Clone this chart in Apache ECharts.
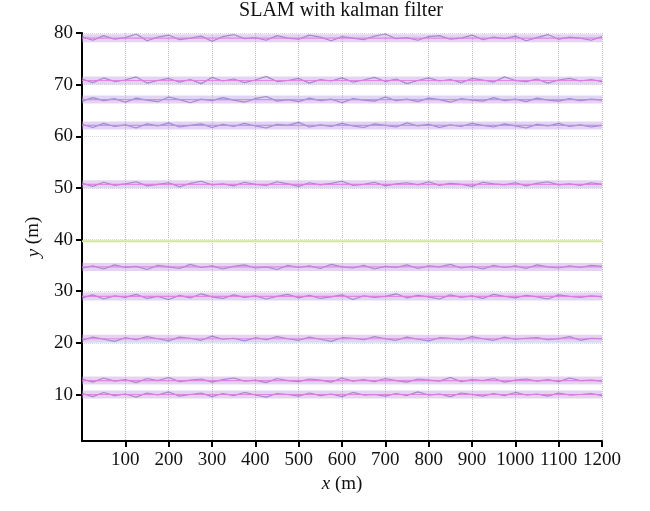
<!DOCTYPE html>
<html>
<head>
<meta charset="utf-8">
<script src="https://cdn.jsdelivr.net/npm/echarts@6/dist/echarts.min.js"></script>
<style>
  html, body { margin: 0; padding: 0; background: #fff; }
  #chart { width: 650px; height: 511px; }
</style>
</head>
<body>
<div id="chart"></div>
<script>
// x positions of the sampled track points (m)
const xs = [0, 25, 50, 75, 100, 125, 150, 175, 200, 225, 250, 275, 300, 325, 350, 375, 400,
  425, 450, 475, 500, 525, 550, 575, 600, 625, 650, 675, 700, 725, 750, 775, 800, 825, 850,
  875, 900, 925, 950, 975, 1000, 1025, 1050, 1075, 1100, 1125, 1150, 1175, 1200];

const xTicks = [100, 200, 300, 400, 500, 600, 700, 800, 900, 1000, 1100, 1200];
const yTicks = [10, 20, 30, 40, 50, 60, 70, 80];

// straight reference lines (pink) for each landmark row
const trackMeans = [79.0, 70.8, 67.1, 62.1, 50.7, 34.7, 29.0, 20.8, 12.7, 10.0];
// the green straight line
const greenLine = 39.7;

// estimated (noisy) tracks, one per row
const t79 = [79.3, 78.6, 79.5, 78.8, 79.1, 79.8, 78.5, 79.2, 79.6, 78.7, 79.0, 79.4, 78.4, 79.3,
  79.7, 78.9, 79.1, 78.6, 79.5, 79.0, 78.8, 79.6, 79.2, 78.5, 79.3, 79.0, 78.7, 79.4,
  79.8, 78.9, 79.1, 78.6, 79.3, 79.5, 78.8, 79.0, 79.6, 78.7, 79.2, 78.9, 79.4, 78.5,
  79.1, 79.7, 78.8, 79.2, 79.0, 78.6, 79.3];
const t71 = [71.1, 70.4, 71.3, 70.6, 70.9, 71.5, 70.3, 70.8, 71.2, 70.5, 71.0, 70.2, 71.4, 70.7,
  71.1, 70.4, 70.9, 71.6, 70.6, 70.8, 71.2, 70.3, 71.0, 70.7, 71.3, 70.5, 70.9, 71.4,
  70.6, 71.1, 70.2, 70.8, 71.3, 70.7, 71.0, 70.4, 71.2, 70.9, 70.5, 71.5, 70.8, 70.6,
  71.1, 70.3, 70.9, 71.2, 70.7, 71.0, 70.6];
const t67 = [66.8, 67.5, 66.9, 67.3, 66.6, 67.4, 67.0, 66.7, 67.6, 67.1, 66.5, 67.2, 66.9, 67.5,
  67.0, 66.6, 67.3, 67.7, 66.8, 67.1, 66.7, 67.4, 66.9, 67.2, 66.5, 67.3, 67.0, 66.8,
  67.6, 66.9, 67.2, 66.7, 67.4, 67.1, 66.6, 67.3, 67.0, 66.8, 67.5, 66.9, 67.2, 66.7,
  67.4, 67.0, 66.8, 67.3, 66.9, 67.2, 67.0];
const t62 = [62.3, 61.7, 62.5, 61.9, 62.2, 61.6, 62.4, 62.0, 62.6, 61.8, 62.1, 62.4, 61.7, 62.3,
  61.9, 62.5, 62.0, 61.6, 62.3, 62.1, 62.7, 61.8, 62.2, 61.9, 62.5, 62.0, 61.7, 62.4,
  62.1, 61.8, 62.6, 62.0, 62.3, 61.7, 62.2, 61.9, 62.5, 62.1, 61.8, 62.4, 62.0, 61.6,
  62.3, 62.0, 62.5, 61.9, 62.2, 61.8, 62.1];
const t51 = [50.9, 50.3, 51.1, 50.5, 50.8, 51.2, 50.4, 50.7, 51.0, 50.2, 50.9, 51.3, 50.6, 50.8,
  50.4, 51.1, 50.7, 50.5, 51.2, 50.8, 50.3, 51.0, 50.6, 50.9, 51.3, 50.5, 50.7, 51.1,
  50.4, 50.8, 51.0, 50.6, 51.2, 50.5, 50.9, 50.7, 50.3, 51.1, 50.8, 50.6, 51.0, 50.4,
  50.9, 51.2, 50.6, 50.8, 50.5, 51.0, 50.7];
const t35 = [34.5, 34.9, 34.3, 35.1, 34.6, 34.8, 34.2, 35.0, 34.7, 34.4, 35.2, 34.6, 34.9, 34.3,
  34.8, 35.1, 34.5, 34.7, 34.2, 35.0, 34.6, 34.9, 34.4, 35.2, 34.7, 34.5, 35.0, 34.3,
  34.8, 34.6, 35.1, 34.4, 34.9, 34.7, 35.2, 34.5, 34.8, 34.3, 35.0, 34.6, 34.9, 34.4,
  35.1, 34.7, 34.5, 34.9, 34.6, 35.0, 34.8];
const t29 = [28.7, 29.3, 28.5, 29.1, 28.8, 29.4, 28.6, 29.0, 28.4, 29.2, 28.7, 29.5, 28.9, 28.6,
  29.3, 28.8, 29.1, 28.5, 29.0, 29.4, 28.7, 29.2, 28.6, 28.9, 29.3, 28.4, 29.1, 28.8,
  29.0, 29.5, 28.7, 29.2, 28.9, 28.5, 29.3, 28.8, 29.1, 28.6, 29.4, 29.0, 28.7, 29.2,
  28.9, 28.5, 29.3, 29.0, 28.8, 29.1, 28.9];
const t21 = [20.5, 21.1, 20.7, 20.3, 21.0, 20.6, 21.2, 20.8, 20.4, 21.1, 20.9, 20.5, 21.3, 20.7,
  20.9, 20.4, 21.0, 20.6, 21.2, 20.8, 20.5, 21.1, 20.7, 20.3, 21.0, 20.9, 20.6, 21.2,
  20.8, 20.5, 21.1, 20.7, 20.4, 21.0, 20.9, 20.6, 21.2, 20.8, 20.5, 21.1, 20.7, 20.9,
  21.0, 20.6, 20.8, 21.2, 20.5, 20.9, 20.8];
const t13 = [13.0, 12.4, 13.2, 12.6, 12.9, 12.3, 13.1, 12.7, 13.3, 12.5, 12.8, 13.0, 12.4, 12.9,
  13.2, 12.6, 12.8, 12.3, 13.1, 12.7, 12.5, 13.0, 12.8, 12.4, 13.2, 12.6, 12.9, 12.5,
  13.1, 12.7, 12.4, 13.0, 12.8, 12.6, 13.3, 12.5, 12.9, 12.7, 13.1, 12.4, 12.8, 13.0,
  12.6, 12.9, 12.5, 13.2, 12.7, 12.8, 12.6];
const t10 = [10.2, 9.6, 10.4, 9.8, 10.1, 9.5, 10.3, 9.9, 10.5, 9.7, 10.0, 10.3, 9.6, 10.2,
  9.8, 10.4, 9.9, 9.5, 10.2, 10.0, 9.7, 10.3, 9.8, 10.1, 9.6, 10.4, 9.9, 10.0,
  9.7, 10.2, 9.8, 10.5, 9.9, 10.1, 9.6, 10.3, 10.0, 9.7, 10.2, 9.8, 10.4, 9.9,
  10.1, 9.7, 10.3, 9.9, 10.0, 10.2, 9.8];

const tracks = [t79, t71, t67, t62, t51, t35, t29, t21, t13, t10];

const serifFont = "'Liberation Serif', 'DejaVu Serif', serif";

const series = [];
// light horizontal dotted grid, drawn under everything
series.push({
  type: "line", symbol: "none", silent: true, z: 0, data: [],
  markLine: {
    silent: true, symbol: "none", label: { show: false }, z: 0,
    lineStyle: { type: "dotted", color: "#d8d8d8", width: 1 },
    data: yTicks.map((v) => ({ yAxis: v })),
  },
});
trackMeans.forEach((m) => {
  // soft band of scattered estimates
  series.push({
    type: "line", symbol: "none", silent: true, z: 1,
    data: [[0, m], [1200, m]],
    lineStyle: { width: 8, color: "rgba(188, 152, 226, 0.42)" },
  });
});
tracks.forEach((t) => {
  series.push({
    type: "line", symbol: "none", silent: true, z: 2,
    data: t.map((y, i) => [xs[i], y]),
    lineStyle: { width: 1.2, color: "rgba(118, 88, 178, 0.6)" },
  });
});
trackMeans.forEach((m) => {
  series.push({
    type: "line", symbol: "none", silent: true, z: 3,
    data: [[0, m], [1200, m]],
    lineStyle: { width: 1.2, color: "rgba(222, 122, 226, 0.85)" },
  });
});
series.push({
  type: "line", symbol: "none", silent: true, z: 3,
  data: [[0, greenLine], [1200, greenLine]],
  lineStyle: { width: 2, color: "#d3e79c" },
});

const chart = echarts.init(document.getElementById("chart"));
chart.setOption({
  animation: false,
  backgroundColor: "#fff",
  title: {
    text: "SLAM with kalman filter",
    left: 341, top: 1, textAlign: "center", padding: 0,
    textStyle: { fontFamily: serifFont, fontSize: 20, fontWeight: "normal", color: "#111" },
  },
  grid: { left: 82, right: 48, top: 33, bottom: 70 },
  xAxis: {
    type: "value", min: 0, max: 1200, interval: 100,
    name: "{i|x} (m)", nameLocation: "middle", nameGap: 33,
    nameTextStyle: {
      fontFamily: serifFont, fontSize: 19, color: "#111",
      rich: { i: { fontFamily: serifFont, fontSize: 19, fontStyle: "italic", color: "#111" } },
    },
    axisLine: { lineStyle: { color: "#000", width: 2 } },
    axisTick: { show: true, length: 6, lineStyle: { color: "#000", width: 2 }, customValues: xTicks },
    axisLabel: {
      fontFamily: serifFont, fontSize: 19, color: "#111", margin: 10, customValues: xTicks,
      formatter: (v) => String(v),
    },
    splitLine: { show: true, lineStyle: { type: "dotted", color: "#bdbdbd", width: 1 } },
  },
  yAxis: {
    type: "value", min: 1, max: 80,
    name: "{i|y} (m)", nameLocation: "middle", nameGap: 39, nameRotate: 90,
    nameTextStyle: {
      fontFamily: serifFont, fontSize: 19, color: "#111",
      rich: { i: { fontFamily: serifFont, fontSize: 19, fontStyle: "italic", color: "#111" } },
    },
    axisLine: { show: true, lineStyle: { color: "#000", width: 2 } },
    axisTick: { show: true, length: 6, lineStyle: { color: "#000", width: 2 }, customValues: yTicks },
    axisLabel: {
      fontFamily: serifFont, fontSize: 19, color: "#111", margin: 9, customValues: yTicks,
      formatter: (v) => String(v),
    },
    splitLine: { show: false },
  },
  series: series,
});
</script>
</body>
</html>
